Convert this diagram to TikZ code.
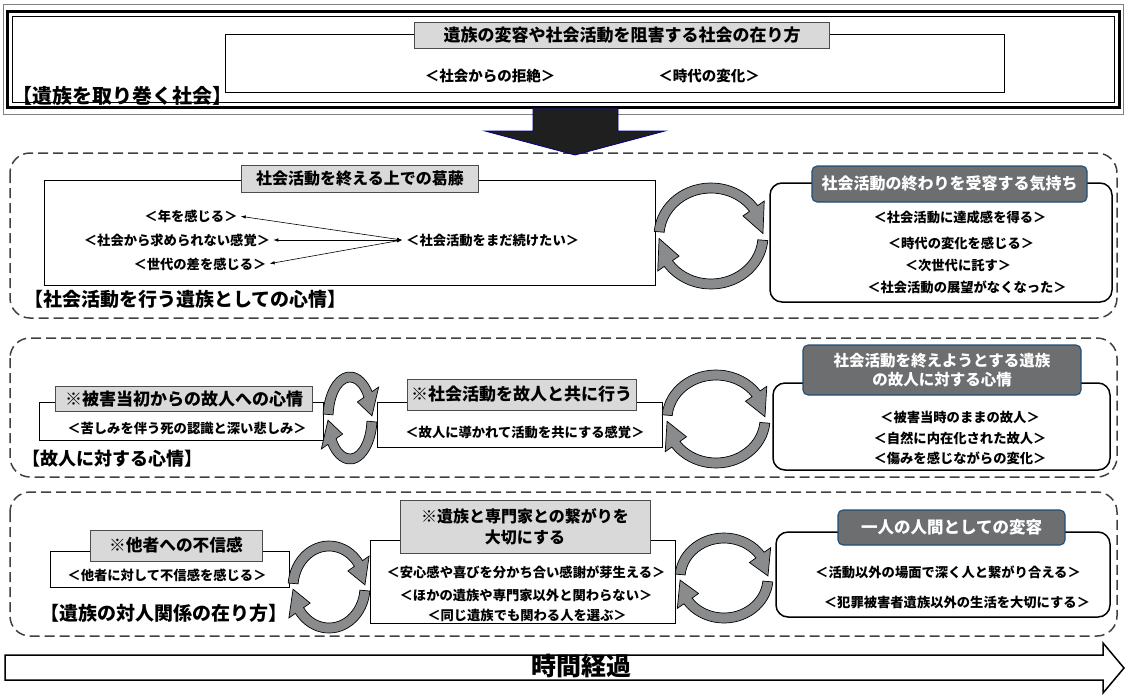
\documentclass[tikz,border=0pt]{standalone}
\usepackage{fontspec}
\setmainfont{Noto Sans CJK JP}
\usetikzlibrary{arrows.meta}
\definecolor{hgray}{HTML}{D9D9D9}
\definecolor{hdark}{HTML}{6D6E70}
\definecolor{hblue}{HTML}{1F4E79}
\definecolor{cycfill}{HTML}{8A8B8C}
\definecolor{dashcol}{HTML}{404040}
\newcommand\jfs[1]{\fontsize{#1}{#1}\selectfont}
\newcommand\cycarrows[3]{%
  \begin{scope}[shift={#1}, yscale=-1]
    \foreach \rr in {0,180}{
      \begin{scope}[rotate=\rr]
        \filldraw[cycstyle]
          ({#2*cos(175)},{#3*sin(175)})
          arc[start angle=175, end angle=35, x radius=#2, y radius=#3]
          -- ({(#2+8)*cos(35)},{(#3+8)*sin(35)})
          -- ({(#2-5)*cos(3)},{(#3-5)*sin(3)})
          -- ({(#2-18)*cos(35)},{(#3-18)*sin(35)})
          -- ({(#2-10)*cos(35)},{(#3-10)*sin(35)})
          arc[start angle=35, end angle=175, x radius=#2-10, y radius=#3-10]
          -- cycle;
      \end{scope}
    }
  \end{scope}}
\tikzset{
  cycstyle/.style={fill=cycfill, draw=black, line width=0.7},
  dashbox/.style={draw=dashcol, line width=1.5, dash pattern=on 10pt off 5pt, rounded corners=20},
  frame/.style={draw=black, line width=0.8},
  ghead/.style={draw=black!70, fill=hgray, line width=0.9, inner sep=0pt, font=\bfseries\jfs{16.5}},
  dhead/.style={draw=hblue, fill=hdark, line width=1.1, rounded corners=5, inner sep=0pt, text=white, font=\bfseries\jfs{16}},
  rbox/.style={draw=black, line width=1.5, rounded corners=12, fill=white, inner sep=0pt},
  item/.style={inner sep=1pt, font=\bfseries\jfs{13.3}},
  grouplabel/.style={anchor=west, inner sep=0pt, font=\bfseries\jfs{19}},
  dbl/.style={line width=0.6, {Latex[length=5pt,width=3.5pt]}-{Latex[length=5pt,width=3.5pt]}, shorten <=2pt}
}
\begin{document}
\begin{tikzpicture}[x=1pt, y=-1pt]
\useasboundingbox (0,0) rectangle (1126,694);

% ---------- top: society ----------
\draw[gray, line width=0.8] (3,4) rectangle (1123,114);
\draw[line width=3] (7,11) rectangle (1119,107);
\draw[line width=0.8] (12,16) rectangle (1114,102);
\node[grouplabel, font=\bfseries\jfs{20}] (soclab) at (12,96) {【遺族を取り巻く社会】};
\draw[frame] (225,34) rectangle (1004,92);
\node[ghead, minimum width=415, minimum height=26, font=\bfseries\jfs{17}] (sochead) at (622,35) {遺族の変容や社会活動を阻害する社会の在り方};
\node[item, font=\bfseries\jfs{14.5}] (kyozetsu) at (490,76) {＜社会からの拒絶＞};
\node[item, font=\bfseries\jfs{14.5}] (jidai) at (709,76) {＜時代の変化＞};

% ---------- row 1 ----------
\draw[dashbox] (10,153) rectangle (1117,318);
\draw[frame] (44,180) rectangle (655,285);
\node[ghead, minimum width=237, minimum height=27, font=\bfseries\jfs{16}] (h1) at (360,178.5) {社会活動を終える上での葛藤};
\node[item] (nen) at (191,216) {＜年を感じる＞};
\node[item] (mot) at (177,240) {＜社会から求められない感覚＞};
\node[item] (sed) at (200,264) {＜世代の差を感じる＞};
\node[item, anchor=west, inner sep=4pt] (cont) at (402,240) {＜社会活動をまだ続けたい＞};
\draw[dbl] (nen.east) -- (cont.west);
\draw[dbl] (mot.east) -- (cont.west);
\draw[dbl] (sed.east) -- (cont.west);
\node[grouplabel] (l1) at (24,299) {【社会活動を行う遺族としての心情】};
\cycarrows{(711,236)}{57}{53}
\node[rbox, minimum width=342, minimum height=119] (r1) at (941,242.5) {};
\node[dhead, minimum width=275, minimum height=36] (r1h) at (949.5,184) {社会活動の終わりを受容する気持ち};
\node[item] (r1a) at (960,217) {＜社会活動に達成感を得る＞};
\node[item] (r1b) at (961,243) {＜時代の変化を感じる＞};
\node[item] (r1c) at (958,265) {＜次世代に託す＞};
\node[item] (r1d) at (967,287) {＜社会活動の展望がなくなった＞};

% ---------- row 2 ----------
\draw[dashbox] (10,338) rectangle (1117,477);
\draw[frame] (39,402) rectangle (323,440);
\node[ghead, minimum width=257, minimum height=25, font=\bfseries\jfs{17}] (h2a) at (184,399) {※被害当初からの故人への心情};
\node[item] (i2a) at (187,428) {＜苦しみを伴う死の認識と深い悲しみ＞};
\node[grouplabel, font=\bfseries\jfs{18}] (l2) at (22,459) {【故人に対する心情】};
\draw[frame] (377,402) rectangle (662,447);
\node[ghead, minimum width=229, minimum height=31, font=\bfseries\jfs{17}] (h2b) at (521.5,394.5) {※社会活動を故人と共に行う};
\node[item] (i2b) at (525,432) {＜故人に導かれて活動を共にする感覚＞};
\cycarrows{(350,418)}{27}{46}
\cycarrows{(716,419)}{54}{49}
\node[rbox, minimum width=337, minimum height=87] (r2) at (941.5,426.5) {};
\node[dhead, minimum width=278, minimum height=50, align=center, font=\bfseries\fontsize{15.5}{19}\selectfont] (r2h) at (942,370) {社会活動を終えようとする遺族\\の故人に対する心情};
\node[item] (r2a) at (960,417) {＜被害当時のままの故人＞};
\node[item] (r2b) at (960,438) {＜自然に内在化された故人＞};
\node[item] (r2c) at (960,458) {＜傷みを感じながらの変化＞};

% ---------- row 3 ----------
\draw[dashbox] (10,492) rectangle (1117,636);
\draw[frame] (50,551) rectangle (289,587);
\node[ghead, minimum width=172, minimum height=31, font=\bfseries\jfs{16.7}] (h3a) at (176,545.5) {※他者への不信感};
\node[item] (i3a) at (167,575) {＜他者に対して不信感を感じる＞};
\node[grouplabel] (l3) at (40,613) {【遺族の対人関係の在り方】};
\draw[frame] (370,540) rectangle (675,623);
\node[ghead, minimum width=250, minimum height=53, align=center, font=\bfseries\fontsize{16}{21}\selectfont] (h3b) at (525,526.5) {※遺族と専門家との繋がりを\\大切にする};
\node[item] (i3b1) at (526,572) {＜安心感や喜びを分かち合い感謝が芽生える＞};
\node[item] (i3b2) at (526,595) {＜ほかの遺族や専門家以外と関わらない＞};
\node[item] (i3b3) at (527,615) {＜同じ遺族でも関わる人を選ぶ＞};
\cycarrows{(329,587)}{41}{46}
\cycarrows{(724,578)}{49}{45}
\node[rbox, minimum width=334, minimum height=85] (r3) at (943,574.5) {};
\node[dhead, minimum width=227, minimum height=35, font=\bfseries\jfs{16.5}] (r3h) at (951.5,527.5) {一人の人間としての変容};
\node[item] (r3a) at (948,572) {＜活動以外の場面で深く人と繋がり合える＞};
\node[item] (r3b) at (957,602) {＜犯罪被害者遺族以外の生活を大切にする＞};

% ---------- big down arrow ----------
\draw[fill=black!88, draw=blue!55!black, line width=0.8]
  (533,108) -- (618,108) -- (618,131) -- (665,131) -- (575,155) -- (485,131) -- (533,131) -- cycle;

% ---------- time arrow ----------
\draw[line width=1.5, fill=white]
  (5,655) -- (1103,655) -- (1103,643) -- (1124,668) -- (1103,693) -- (1103,680) -- (5,680) -- cycle;
\node[font=\bfseries\jfs{25}, inner sep=0pt] (time) at (581,666) {時間経過};
\end{tikzpicture}
\end{document}
